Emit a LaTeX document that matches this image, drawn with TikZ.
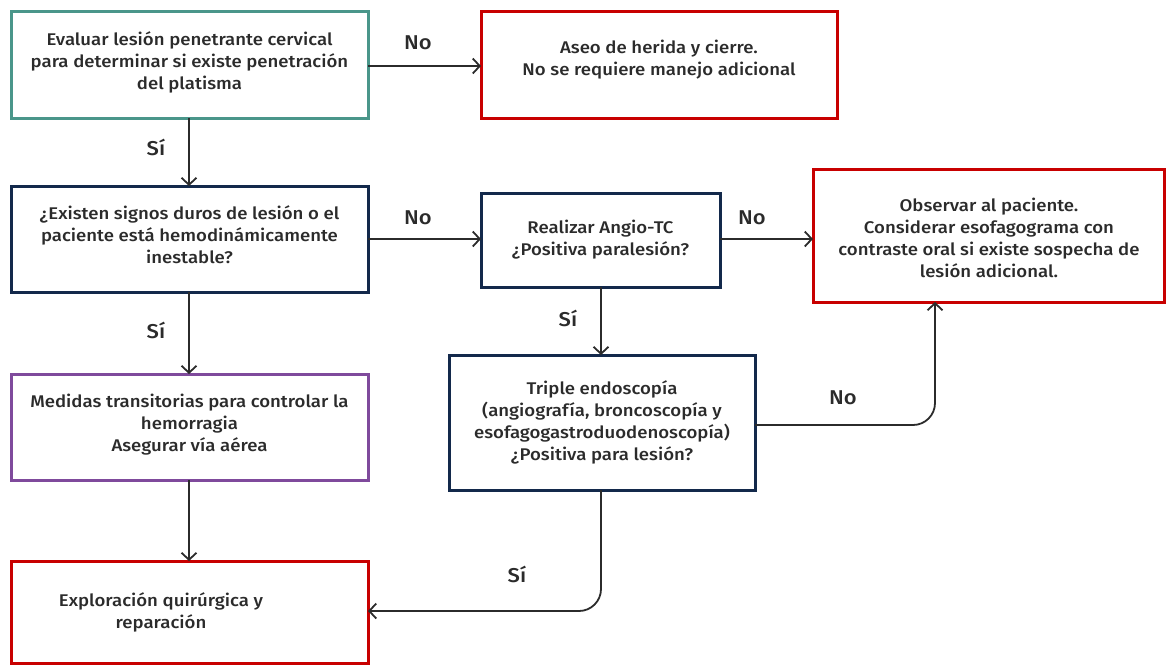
\documentclass[tikz,border=0pt]{standalone}
\usepackage{fontspec}
\setmainfont{Fira Sans}[UprightFont={* Medium}, FakeStretch=1.1]
\usetikzlibrary{arrows.meta}
\definecolor{tealc}{HTML}{4A968A}
\definecolor{redc}{HTML}{C80000}
\definecolor{navyc}{HTML}{13294B}
\definecolor{purplec}{HTML}{7F4A9C}
\definecolor{inkc}{HTML}{2B2B2B}
\tikzset{
  txt/.style={text=inkc, align=center, font=\fontsize{16.9}{22}\selectfont},
  flow/.style={draw=inkc, line width=1.8pt, -{Straight Barb[length=7pt,width=15pt,line width=1.8pt]}},
  lbl/.style={text=inkc, font=\fontsize{20}{22}\selectfont}
}
\begin{document}
\begin{tikzpicture}[x=1pt,y=-1pt]
\useasboundingbox (0,0) rectangle (1166,665);
% boxes (drawn as paths, text placed separately)
\draw[tealc,line width=3pt] (11,11) rectangle (368,118);
\node[txt] (eval) at (189.5,62) {Evaluar lesión penetrante cervical\\para determinar si existe penetración\\del platisma};
\coordinate (evalR) at (368,66);
\coordinate (evalB) at (189,118);

\draw[redc,line width=3pt] (481,11) rectangle (837,118);
\node[txt] (aseo) at (659,60) {Aseo de herida y cierre.\\No se requiere manejo adicional};
\coordinate (aseoL) at (481,66);

\draw[navyc,line width=3pt] (11,186) rectangle (368,292);
\node[txt] (signos) at (189.5,235) {¿Existen signos duros de lesión o el\\paciente está hemodinámicamente\\inestable?};
\coordinate (signosT) at (189,186);
\coordinate (signosR) at (368,239);
\coordinate (signosB) at (189,292);

\draw[navyc,line width=3pt] (481,193) rectangle (720,287);
\node[txt] (angio) at (600.5,240) {Realizar Angio-TC\\¿Positiva paralesión?};
\coordinate (angioL) at (481,239);
\coordinate (angioR) at (720,239);
\coordinate (angioB) at (601,287);

\draw[redc,line width=3pt] (813,169) rectangle (1164.5,302);
\node[txt] (observar) at (989,238) {Observar al paciente.\\Considerar esofagograma con\\contraste oral si existe sospecha de\\lesión adicional.};
\coordinate (observarL) at (813,239);
\coordinate (observarB) at (935,302);

\draw[navyc,line width=3pt] (449,355) rectangle (755,490);
\node[txt] (triple) at (602,422) {Triple endoscopía\\(angiografía, broncoscopía y\\esofagogastroduodenoscopía)\\¿Positiva para lesión?};
\coordinate (tripleT) at (601,355);
\coordinate (tripleR) at (755,425);
\coordinate (tripleB) at (601,490);

\draw[purplec,line width=3pt] (11,374) rectangle (368,480);
\node[txt] (medidas) at (189.5,425) {Medidas transitorias para controlar la\\hemorragia\\Asegurar vía aérea};
\coordinate (medidasT) at (189,374);
\coordinate (medidasB) at (189,480);

\draw[redc,line width=3pt] (11,561) rectangle (368,663);
\node[txt] (explora) at (161,612) {Exploración quirúrgica y\\reparación};
\coordinate (exploraT) at (189,561);
\coordinate (exploraR) at (368,611);

% connectors
\draw[flow] (evalR) -- (aseoL);
\draw[flow] (evalB) -- (signosT);
\draw[flow] (signosR) -- (angioL);
\draw[flow] (angioR) -- (observarL);
\draw[flow] (signosB) -- (medidasT);
\draw[flow] (angioB) -- (tripleT);
\draw[flow] (medidasB) -- (exploraT);
\draw[flow, rounded corners=22pt] (tripleR) -| (observarB);
\draw[flow, rounded corners=22pt] (tripleB) |- (exploraR);

% branch labels
\node[lbl] (l1) at (418,43) {No};
\node[lbl] (l2) at (156,147) {Sí};
\node[lbl] (l3) at (418,218) {No};
\node[lbl] (l4) at (752,218) {No};
\node[lbl] (l5) at (156,330) {Sí};
\node[lbl] (l6) at (568,318) {Sí};
\node[lbl] (l7) at (843,398) {No};
\node[lbl] (l8) at (517,574) {Sí};
\end{tikzpicture}
\end{document}
